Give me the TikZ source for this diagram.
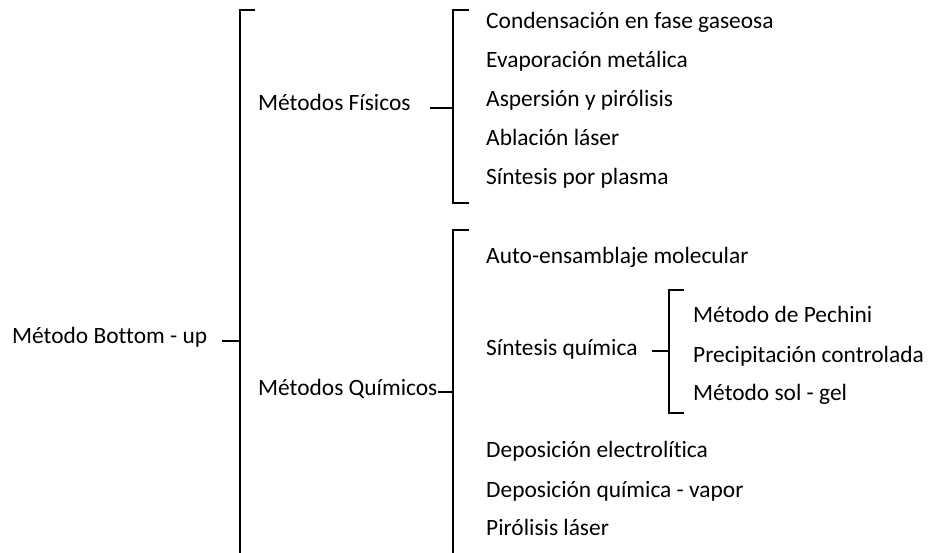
\documentclass[tikz,border=0pt]{standalone}
\usepackage{fontspec}
\setmainfont{Carlito}[Ligatures=NoCommon]
\begin{document}
\begin{tikzpicture}[x=1pt,y=-1pt,
  lbl/.style={anchor=base west,inner sep=0pt,font=\fontsize{23.4}{27}\selectfont,text=black},
  br/.style={line width=2.4pt,black,line cap=butt,line join=miter}]
\useasboundingbox (0,0) rectangle (931,552);
% texts
\node[lbl] (root) at (12,343) {Método Bottom - up};
\node[lbl] (fis) at (258,110) {Métodos Físicos};
\node[lbl] (qui) at (258,395) {Métodos Químicos};
\node[lbl] (f1) at (486,28) {Condensación en fase gaseosa};
\node[lbl] (f2) at (486,67) {Evaporación metálica};
\node[lbl] (f3) at (486,106) {Aspersión y pirólisis};
\node[lbl] (f4) at (486,145) {Ablación láser};
\node[lbl] (f5) at (486,184) {Síntesis por plasma};
\node[lbl] (q1) at (486,263) {Auto-ensamblaje molecular};
\node[lbl] (q2) at (486,355) {Síntesis química};
\node[lbl] (q3) at (486,457) {Deposición electrolítica};
\node[lbl] (q4) at (486,497) {Deposición química - vapor};
\node[lbl] (q5) at (486,535) {Pirólisis láser};
\node[lbl] (s1) at (693,322) {Método de Pechini};
\node[lbl] (s2) at (693,362) {Precipitación controlada};
\node[lbl] (s3) at (693,400) {Método sol - gel};
% bracket coordinates
\coordinate (r0) at (222,341);
\coordinate (B) at (240,341);
\coordinate (Bt) at (240,10);
\coordinate (Btt) at (255,10);
\coordinate (Bb) at (240,560);
\coordinate (f0) at (430,108);
\coordinate (F) at (453,108);
\coordinate (Ft) at (453,10);
\coordinate (Ftt) at (469,10);
\coordinate (Fb) at (453,203);
\coordinate (Fbb) at (469,203);
\coordinate (q0) at (438,392);
\coordinate (Q) at (453,392);
\coordinate (Qt) at (453,230);
\coordinate (Qtt) at (469,230);
\coordinate (Qb) at (453,560);
\coordinate (s0) at (652,351);
\coordinate (S) at (669,351);
\coordinate (St) at (669,290);
\coordinate (Stt) at (684,290);
\coordinate (Sb) at (669,413);
\coordinate (Sbb) at (684,413);
% connectors
\draw[br] (r0) -- (B);
\draw[br] (Btt) -- (Bt) -- (Bb);
\draw[br] (f0) -- (F);
\draw[br] (Ftt) -- (Ft) -- (Fb) -- (Fbb);
\draw[br] (q0) -- (Q);
\draw[br] (Qtt) -- (Qt) -- (Qb);
\draw[br] (s0) -- (S);
\draw[br] (Stt) -- (St) -- (Sb) -- (Sbb);
\end{tikzpicture}
\end{document}
